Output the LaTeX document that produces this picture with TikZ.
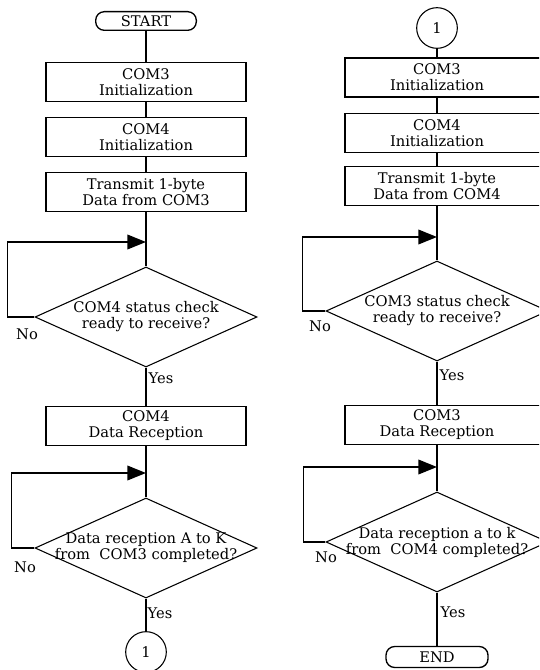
\documentclass[tikz,border=0pt]{standalone}
\usepackage{fontspec}
\setmainfont{DejaVu Serif}
\usetikzlibrary{shapes.geometric,arrows.meta}
\begin{document}
\begin{tikzpicture}[x=0.75pt, y=-0.75pt,
    font=\fontsize{11}{12}\selectfont,
    box/.style={draw, line width=1.4pt, minimum width=150pt, minimum height=29.25pt, align=center, inner sep=1pt},
    rbox/.style={box, minimum width=153pt},
    term/.style={draw, line width=1pt, rounded corners=6.5pt, minimum width=75.5pt, minimum height=14pt, inner sep=0pt},
    conn/.style={draw, circle, line width=0.8pt, minimum size=30.5pt, inner sep=0pt},
    dia/.style={draw, diamond, line width=0.8pt, minimum width=166.5pt, minimum height=75pt, inner sep=0pt, aspect=2.22},
    line/.style={line width=1.4pt},
    back/.style={line width=1.2pt, -{Triangle[length=14pt,width=11pt]}}]
    \useasboundingbox (0,0) rectangle (539,670);
    \clip (0,0) rectangle (539,670);
    % left column
    \node[term] (start) at (146,21) {START};
    \node[box] (a1) at (146,82) {COM3\\Initialization};
    \node[box] (a2) at (146,137) {COM4\\Initialization};
    \node[box] (a3) at (146,192) {Transmit 1-byte\\Data from COM3};
    \coordinate (m1) at (146,242);
    \node[dia, label={[align=center]center:COM4 status check\\ready to receive?}] (d1) at (146,317) {};
    \node (no1) at (27,334) {No};
    \node (yes1) at (161,378) {Yes};
    \node[box] (a4) at (146,426) {COM4\\Data Reception};
    \coordinate (m2) at (146,473);
    \node[dia, label={[align=center]center:Data reception A to K\\from\ \ COM3 completed?}] (d2) at (146,548) {};
    \node (no2) at (25,567) {No};
    \node (yes2) at (160,613) {Yes};
    \node[conn] (c1) at (146,652) {1};
    \draw[line] (start) -- (a1);
    \draw[line] (a1) -- (a2);
    \draw[line] (a2) -- (a3);
    \draw[line] (a3) -- (d1);
    \draw[back] (d1.west) -- ++(-27,0) |- (m1);
    \draw[line] (d1) -- (a4);
    \draw[line] (a4) -- (d2);
    \draw[back] (d2.west) -- ++(-23,0) |- (m2);
    \draw[line] (d2) -- (c1);
    % right column
    \node[conn] (c2) at (437,28) {1};
    \node[rbox, label={[align=center, xshift=-7.5pt]center:COM3\\Initialization}] (b1) at (447,77.5) {};
    \node[rbox, label={[align=center, xshift=-7.5pt]center:COM4\\Initialization}] (b2) at (447,133) {};
    \node[rbox, label={[align=center, xshift=-7.5pt]center:Transmit 1-byte\\Data from COM4}] (b3) at (447,186) {};
    \coordinate (m3) at (437,237);
    \node[dia, label={[align=center]center:COM3 status check\\ready to receive?}] (d3) at (437,311) {};
    \node (no3) at (320,326) {No};
    \node (yes3) at (452,375) {Yes};
    \node[rbox, label={[align=center, xshift=-7.5pt]center:COM3\\Data Reception}] (b4) at (447,425) {};
    \coordinate (m4) at (437,467);
    \node[dia, label={[align=center]center:Data reception a to k\\from\ \ COM4 completed?}] (d4) at (437,542) {};
    \node (no4) at (326,557) {No};
    \node (yes4) at (453,612) {Yes};
    \node[term, minimum width=76.5pt, minimum height=15.75pt] (end) at (437,657) {END};
    \draw[line] (c2) -- (b1.north -| c2);
    \draw[line] (b1.south -| c2) -- (b2.north -| c2);
    \draw[line] (b2.south -| c2) -- (b3.north -| c2);
    \draw[line] (b3.south -| c2) -- (d3);
    \draw[back] (d3.west) -- ++(-23,0) |- (m3);
    \draw[line] (d3) -- (b4.north -| c2);
    \draw[line] (b4.south -| c2) -- (d4);
    \draw[back] (d4.west) -- ++(-22,0) |- (m4);
    \draw[line] (d4) -- (end);
\end{tikzpicture}
\end{document}
